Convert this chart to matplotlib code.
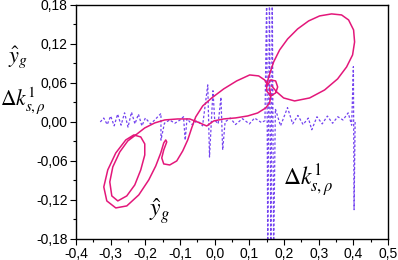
import matplotlib
matplotlib.use("Agg")
import matplotlib.pyplot as plt
from matplotlib.ticker import MultipleLocator, FuncFormatter

# Curve y_hat_g (phase trajectory)
yg_x = [0.1585, 0.1614, 0.1585, 0.1470, 0.1239, 0.0951, 0.0605, 0.0259, -0.0029,
        -0.0231, -0.0432, -0.0720, -0.1066, -0.1441, -0.1729, -0.2017, -0.2277,
        -0.2507, -0.2738, -0.2939, -0.3026, -0.2968, -0.2795, -0.2536, -0.2305,
        -0.2133, -0.2017, -0.2017, -0.2133, -0.2334,
        -0.2565, -0.2853, -0.3084, -0.3199, -0.3112, -0.2853, -0.2536, -0.2190,
        -0.1902, -0.1700, -0.1556, -0.1470,
        -0.1412, -0.1383, -0.1470, -0.1527, -0.1470, -0.1297, -0.1095, -0.0922,
        -0.0778, -0.0663, -0.0548, -0.0346, -0.0086, 0.0259, 0.0634, 0.1009,
        0.1268, 0.1441, 0.1527,
        0.1614, 0.1758, 0.1816, 0.1758, 0.1614, 0.1499, 0.1499,
        0.1585, 0.1700, 0.1873, 0.2104, 0.2392, 0.2709, 0.3026, 0.3372, 0.3660,
        0.3862, 0.4006, 0.4035, 0.3977, 0.3804, 0.3545, 0.3170, 0.2738, 0.2305,
        0.1988, 0.1787, 0.1643]
yg_y = [0.0523, 0.0400, 0.0292, 0.0215, 0.0138, 0.0092, 0.0062, 0.0046, 0.0015,
        -0.0062, -0.0015, 0.0046, 0.0046, 0.0031, -0.0015, -0.0092, -0.0200,
        -0.0292, -0.0462, -0.0692, -0.0923, -0.1138, -0.1215, -0.1138, -0.0969,
        -0.0738, -0.0508, -0.0338, -0.0231, -0.0200,
        -0.0277, -0.0477, -0.0738, -0.1000, -0.1215, -0.1323, -0.1292, -0.1123,
        -0.0892, -0.0677, -0.0477, -0.0323,
        -0.0277, -0.0308, -0.0431, -0.0554, -0.0646, -0.0662, -0.0600, -0.0446,
        -0.0277, -0.0092, 0.0077, 0.0246, 0.0369, 0.0508, 0.0631, 0.0723,
        0.0708, 0.0646, 0.0569,
        0.0646, 0.0631, 0.0538, 0.0446, 0.0400, 0.0477, 0.0585,
        0.0738, 0.0923, 0.1108, 0.1277, 0.1431, 0.1554, 0.1631, 0.1662, 0.1646,
        0.1569, 0.1415, 0.1231, 0.1031, 0.0846, 0.0662, 0.0492, 0.0369, 0.0323,
        0.0369, 0.0462, 0.0554]

# Curve delta k^1_{s,rho} (dotted)
dk_x = [-0.33, -0.32, -0.31, -0.30, -0.29, -0.28, -0.27, -0.26, -0.25, -0.24,
        -0.23, -0.22, -0.21, -0.20, -0.185, -0.175, -0.155, -0.155, -0.145, -0.13,
        -0.115, -0.10, -0.09, -0.085, -0.08, -0.065, -0.05, -0.035, -0.02, -0.015,
        -0.005, 0.0, 0.01, 0.018, 0.023, 0.03, 0.045, 0.06, 0.08, 0.10,
        0.115, 0.135, 0.145, 0.150, 0.153, 0.158, 0.162, 0.166, 0.170, 0.175,
        0.19, 0.21, 0.225, 0.24, 0.255, 0.27, 0.28, 0.295, 0.31, 0.325,
        0.34, 0.355, 0.37, 0.385, 0.395, 0.40, 0.402, 0.405]
dk_y = [0.000, 0.006, -0.004, 0.009, -0.006, 0.012, -0.005, 0.014, -0.008, 0.015,
        -0.003, 0.012, -0.006, 0.006, -0.003, 0.002, 0.013, -0.028, -0.002, 0.003,
        -0.002, 0.003, 0.008, -0.028, 0.005, -0.004, 0.002, -0.006, 0.057, -0.054,
        0.048, 0.003, -0.003, 0.038, -0.043, 0.000, 0.006, -0.004, 0.005, -0.003,
        0.006, -0.001, 0.002, 0.200, -0.200, 0.200, -0.200, 0.200, -0.200, 0.020,
        -0.006, 0.022, -0.003, 0.010, -0.004, 0.006, -0.012, 0.008, -0.003, 0.009,
        -0.002, 0.008, 0.003, 0.014, -0.005, 0.085, -0.135, 0.000]

MAGENTA = "#e3177a"
VIOLET = "#7444f0"


def comma_fmt(decimals):
    def f(v, pos):
        v = round(v, decimals) + 0.0
        return f"{v:.{decimals}f}".replace(".", ",")
    return FuncFormatter(f)


plt.rcParams.update({
    "font.family": "Liberation Sans",
    "font.size": 10,
    "mathtext.fontset": "stix",
})

fig = plt.figure(figsize=(3.98, 2.60), dpi=100)
ax = fig.add_axes([0.191, 0.081, 0.784, 0.900])

ax.plot(dk_x, dk_y, color=VIOLET, lw=0.9, linestyle=(0, (2, 1.6)))
ax.plot(yg_x, yg_y, color=MAGENTA, lw=1.1)

ax.set_xlim(-0.4, 0.5)
ax.set_ylim(-0.18, 0.18)
ax.xaxis.set_major_locator(MultipleLocator(0.1))
ax.xaxis.set_minor_locator(MultipleLocator(0.05))
ax.yaxis.set_major_locator(MultipleLocator(0.06))
ax.yaxis.set_minor_locator(MultipleLocator(0.03))
ax.xaxis.set_major_formatter(comma_fmt(1))
ax.yaxis.set_major_formatter(comma_fmt(2))
ax.tick_params(which="major", direction="out", length=4, width=0.8, pad=2, labelsize=10)
ax.tick_params(which="minor", direction="out", length=2, width=0.8)
for s in ax.spines.values():
    s.set_linewidth(1.0)

# curve labels
ax.text(-0.158, -0.137, r"$\hat{y}_g$", fontsize=17, ha="center", va="center")
ax.text(0.27, -0.09, r"$\Delta k^{1}_{s,\rho}$", fontsize=17, ha="center", va="center")

# y axis labels on the left
fig.text(0.045, 0.78, r"$\hat{y}_g$", fontsize=16, ha="center", va="center")
fig.text(0.058, 0.615, r"$\Delta k^{1}_{s,\rho}$", fontsize=15.5, ha="center", va="center")

fig.savefig("out.png", dpi=100)
